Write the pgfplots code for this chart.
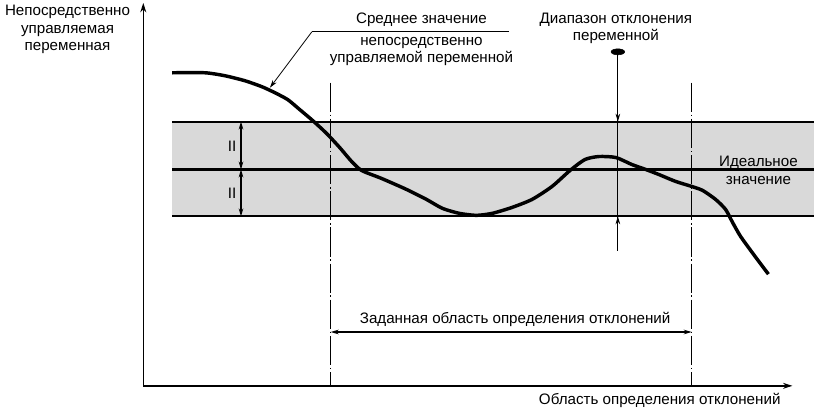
\documentclass[border=0pt]{standalone}
\usepackage{pgfplots}
\pgfplotsset{compat=1.18}
\usepackage{fontspec}
\setmainfont{Liberation Sans}
\usetikzlibrary{arrows.meta}

\definecolor{band}{RGB}{217,217,217}

\begin{document}
\fontsize{11.4}{13.1}\selectfont
\begin{tikzpicture}
\begin{axis}[
    x=0.75pt, y=0.75pt,
    xmin=143, xmax=794,
    ymin=24, ymax=408,
    axis lines=left,
    axis line style={line width=1.1pt, -{Stealth[length=7pt,width=4.5pt]}},
    xtick=\empty, ytick=\empty,
    clip=false,
]
% band around ideal value
\addplot[fill=band, draw=none] coordinates {(172,194)(816,194)(816,289)(172,289)} -- cycle;
\addplot[line width=1.5pt] coordinates {(172,289)(816,289)};
\addplot[line width=1.5pt] coordinates {(172,194)(816,194)};
\addplot[line width=2.6pt] coordinates {(172,241)(816,241)};

% dash-dot limits of the given region
\addplot[line width=1.1pt, dash pattern=on 22pt off 2pt on 1.2pt off 2pt] coordinates {(331,328)(331,24)};
\addplot[line width=1.1pt, dash pattern=on 22pt off 2pt on 1.2pt off 2pt] coordinates {(693,328)(693,24)};

% mean value of the controlled variable
\addplot[line width=2.6pt, smooth, tension=0.4] coordinates {
(172,338)(205,338)(225,335)(245,330)(262,324)(275,318)(288,311)(300,301)
(313,290)(327,277)(340,263)(352,249)(362,240)(382,232)(407,221)(427,211)
(443,202)(460,197)(477,195)(493,197)(513,203)(533,211)(553,224)(571,240)
(586,251)(600,254)(617,253)(633,246)(647,241)(660,236)(677,229)(693,224)
(704,220)(717,211)(727,201)(734,188)(742,174)(755,156)(770,136)};

% deviation range marker
\addplot[line width=0.8pt] coordinates {(619,359)(619,159)};
\addplot[only marks, mark=*, mark size=3pt, mark options={xscale=1.7,yscale=0.75}] coordinates {(619,359)};
\draw[line width=0.8pt, -{Stealth[length=6pt,width=3.5pt]}] (axis cs:619,330) -- (axis cs:619,289);
\draw[line width=0.8pt, -{Stealth[length=6pt,width=3.5pt]}] (axis cs:619,170) -- (axis cs:619,194);

% II arrows
\draw[line width=0.8pt, {Stealth[length=6pt,width=3.5pt]}-{Stealth[length=6pt,width=3.5pt]}] (axis cs:241,289) -- (axis cs:241,241);
\draw[line width=0.8pt, {Stealth[length=6pt,width=3.5pt]}-{Stealth[length=6pt,width=3.5pt]}] (axis cs:241,241) -- (axis cs:241,194);
\node at (axis cs:232,264) {II};
\node at (axis cs:232,217) {II};

% given region dimension
\draw[line width=0.8pt, {Stealth[length=6pt,width=3.5pt]}-{Stealth[length=6pt,width=3.5pt]}] (axis cs:331,78) -- (axis cs:693,78);
\node at (axis cs:516,91) {Заданная область определения отклонений};

% leader to the curve
\draw[line width=0.6pt] (axis cs:510,379) -- (axis cs:312,379);
\draw[line width=0.6pt, -{Stealth[length=6pt,width=3.5pt]}] (axis cs:312,379) -- (axis cs:270,323);

% texts
\node at (axis cs:422,391) {Среднее значение};
\node[align=center] at (axis cs:422,359.5) {непосредственно\\управляемой переменной};
\node[align=center] at (axis cs:617,382.5) {Диапазон отклонения\\переменной};
\node[align=center] at (axis cs:760,240) {Идеальное\\значение};
\node[align=center] at (axis cs:67,381.5) {Непосредственно\\управляемая\\переменная};
\node at (axis cs:661,9) {Область определения отклонений};

\path (axis cs:0,0) rectangle (axis cs:816,411);
\end{axis}
\end{tikzpicture}
\end{document}
